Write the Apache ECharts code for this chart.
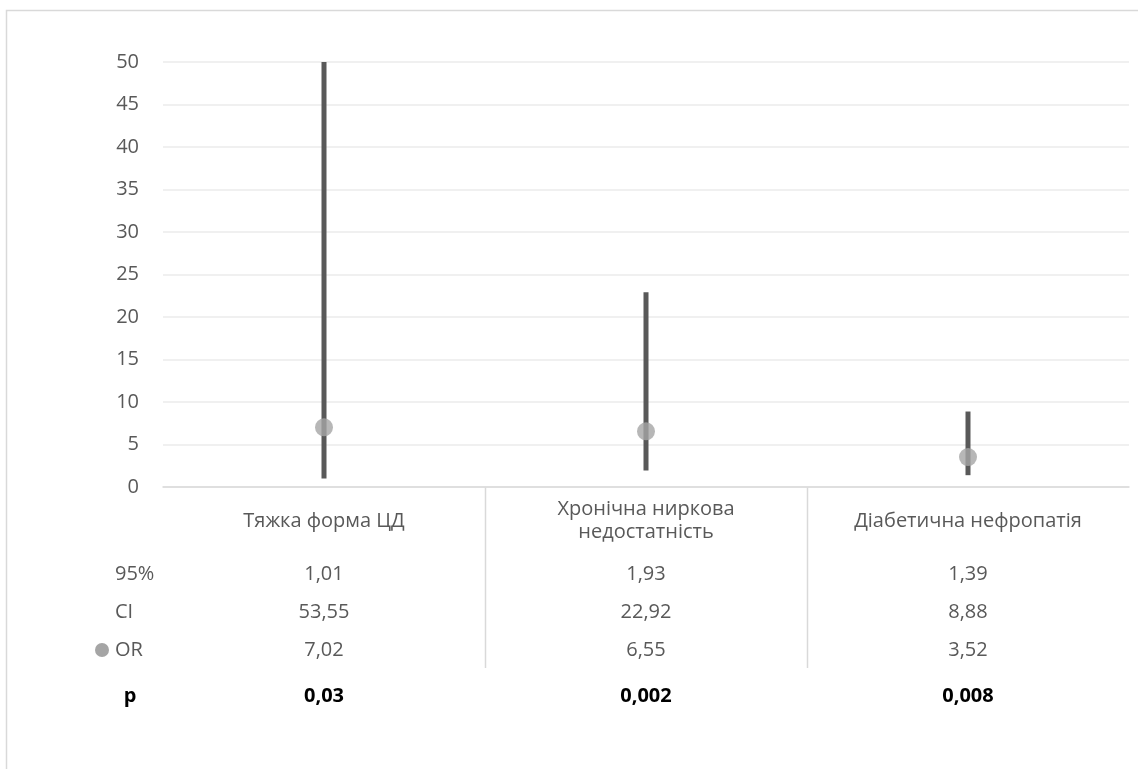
<!DOCTYPE html>
<html>
<head>
<meta charset="utf-8">
<title>OR 95% CI</title>
<script src="https://cdn.jsdelivr.net/npm/echarts@6/dist/echarts.min.js"></script>
<style>
  html, body { margin: 0; padding: 0; background: #fff; }
  #chart { width: 1138px; height: 769px; }
</style>
</head>
<body>
<div id="chart"></div>
<script>
  // дані з таблиці під графіком
  var categories = ['Тяжка форма ЦД', 'Хронічна ниркова недостатність', 'Діабетична нефропатія'];
  var ciLow = [1.01, 1.93, 1.39];
  var ciHigh = [53.55, 22.92, 8.88];
  var orValues = [7.02, 6.55, 3.52];
  var pValues = ['0,03', '0,002', '0,008'];
  var yTicks = [0, 50, 5]; // min, max, interval

  var FONT = '"Open Sans", "Noto Sans", sans-serif';
  var FS = 20;
  var TXT = '#595959';

  function fmt(v) {
    return v.toFixed(2).replace('.', ',');
  }

  // довгі назви переносимо на два рядки, як в Excel
  function wrapName(name) {
    if (name.length <= 24) return name;
    var cut = name.lastIndexOf(' ', 18);
    return cut > 0 ? name.slice(0, cut) + '\n' + name.slice(cut + 1) : name;
  }

  // додаткова вісь під графіком = рядок таблиці
  function rowAxis(margin, getText, bold) {
    return {
      type: 'category',
      position: 'bottom',
      gridIndex: 0,
      data: categories,
      axisLine: { show: false },
      axisTick: { show: false },
      splitLine: { show: false },
      axisLabel: {
        margin: margin,
        verticalAlign: 'middle',
        color: bold ? '#000' : TXT,
        fontWeight: bold ? 'bold' : 'normal',
        fontFamily: FONT,
        fontSize: FS,
        interval: 0,
        formatter: function (val, idx) { return getText(idx); }
      }
    };
  }

  function rowLabel(x, y, text, bold, align) {
    return {
      type: 'text',
      x: x,
      y: y,
      style: {
        text: text,
        fill: bold ? '#000' : TXT,
        font: (bold ? 'bold ' : '') + FS + 'px ' + FONT,
        align: align || 'left',
        verticalAlign: 'middle',
        textAlign: align || 'left',
        textVerticalAlign: 'middle'
      },
      silent: true
    };
  }

  var chart = echarts.init(document.getElementById('chart'), null, { renderer: 'canvas' });

  var option = {
    animation: false,
    grid: { left: 163, right: 9, top: 62, bottom: 282 },
    xAxis: [
      {
        type: 'category',
        position: 'bottom',
        data: categories,
        axisLine: { lineStyle: { color: '#D9D9D9', width: 1.5 } },
        axisTick: { show: false },
        axisLabel: {
          margin: 34,
          verticalAlign: 'middle',
          color: TXT,
          fontFamily: FONT,
          fontSize: FS,
          lineHeight: 23,
          interval: 0,
          align: 'center',
          formatter: wrapName
        }
      },
      rowAxis(87, function (i) { return fmt(ciLow[i]); }),
      rowAxis(125, function (i) { return fmt(ciHigh[i]); }),
      rowAxis(163, function (i) { return fmt(orValues[i]); }),
      rowAxis(209, function (i) { return pValues[i]; }, true)
    ],
    yAxis: {
      type: 'value',
      min: yTicks[0],
      max: yTicks[1],
      interval: yTicks[2],
      axisLine: { show: false },
      axisTick: { show: false },
      splitLine: { lineStyle: { color: '#EBEBEB', width: 1.5 } },
      axisLabel: { color: TXT, fontFamily: FONT, fontSize: FS, margin: 24 }
    },
    series: [
      {
        name: '95% CI',
        type: 'custom',
        clip: true,
        data: categories.map(function (c, i) { return [i, ciLow[i], ciHigh[i]]; }),
        encode: { x: 0, y: [1, 2] },
        renderItem: function (params, api) {
          var lo = api.coord([api.value(0), api.value(1)]);
          var hi = api.coord([api.value(0), api.value(2)]);
          return {
            type: 'line',
            shape: { x1: lo[0], y1: lo[1], x2: hi[0], y2: hi[1] },
            style: { stroke: '#595959', lineWidth: 5 }
          };
        },
        z: 2
      },
      {
        name: 'OR',
        type: 'scatter',
        data: orValues.map(function (v, i) { return [i, v]; }),
        symbol: 'circle',
        symbolSize: 18,
        itemStyle: { color: '#A5A5A5' },
        z: 3
      }
    ],
    graphic: [
      {
        type: 'rect',
        shape: { x: 6.5, y: 10.5, width: 1140, height: 770 },
        style: { fill: 'none', stroke: '#D9D9D9', lineWidth: 1.5 },
        silent: true
      },
      rowLabel(115, 574, '95%'),
      rowLabel(115, 612, 'CI'),
      { type: 'circle', shape: { cx: 102, cy: 650, r: 7 }, style: { fill: '#A5A5A5' }, silent: true },
      rowLabel(115, 650, 'OR'),
      rowLabel(130, 696, 'p', true, 'center')
    ]
  };

  chart.setOption(option);

  // вертикальні роздільники таблиці між категоріями
  var dividers = [];
  var c0 = chart.convertToPixel({ xAxisIndex: 0 }, 0);
  var c1 = chart.convertToPixel({ xAxisIndex: 0 }, 1);
  var band = c1 - c0;
  var yBase = chart.convertToPixel({ yAxisIndex: 0 }, 0);
  for (var i = 1; i < categories.length; i++) {
    var x = Math.round(chart.convertToPixel({ xAxisIndex: 0 }, i) - band / 2) + 0.5;
    dividers.push({
      type: 'line',
      shape: { x1: x, y1: yBase, x2: x, y2: 668 },
      style: { stroke: '#D9D9D9', lineWidth: 1.5 },
      silent: true
    });
  }
  chart.setOption({ graphic: option.graphic.concat(dividers) });
</script>
</body>
</html>
